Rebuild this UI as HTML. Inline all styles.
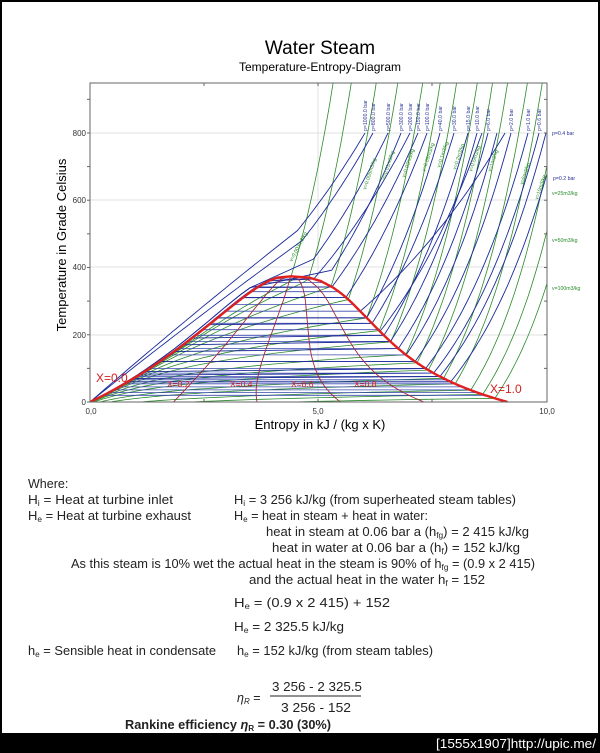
<!DOCTYPE html>
<html><head><meta charset="utf-8"><style>
html,body{margin:0;padding:0;background:#fff;}
svg{display:block;}
text{font-family:"Liberation Sans",sans-serif;}
</style></head><body>
<svg id="s" width="600" height="753" viewBox="0 0 600 753" xmlns="http://www.w3.org/2000/svg">
<rect x="0" y="0" width="600" height="753" fill="#fff"/>
<defs><clipPath id="cp"><rect x="90" y="83" width="457" height="319"/></clipPath></defs>
<text x="320" y="54" font-size="19" text-anchor="middle">Water Steam</text>
<text x="320" y="71" font-size="12" text-anchor="middle">Temperature-Entropy-Diagram</text>
<g stroke="#e2e2e2" stroke-width="1">
<line x1="90" y1="133" x2="547" y2="133"/><line x1="90" y1="200" x2="547" y2="200"/>
<line x1="90" y1="267" x2="547" y2="267"/><line x1="90" y1="335" x2="547" y2="335"/>
<line x1="318" y1="83" x2="318" y2="402"/>
</g>
<g id="curves" clip-path="url(#cp)" fill="none"></g>
<rect x="90" y="83" width="457" height="319" fill="none" stroke="#666" stroke-width="1"/>
<g id="ticks" stroke="#666" stroke-width="1"></g>
<g font-size="8" fill="#333">
<text x="86" y="136" text-anchor="end">800</text>
<text x="86" y="203" text-anchor="end">600</text>
<text x="86" y="270" text-anchor="end">400</text>
<text x="86" y="338" text-anchor="end">200</text>
<text x="86" y="405" text-anchor="end">0</text>
<text x="91" y="414" text-anchor="middle">0,0</text>
<text x="318" y="414" text-anchor="middle">5,0</text>
<text x="547" y="414" text-anchor="middle">10,0</text>
</g>
<text x="320" y="429" font-size="13" text-anchor="middle">Entropy in kJ / (kg x K)</text>
<text transform="translate(66,245) rotate(-90)" font-size="13" text-anchor="middle">Temperature in Grade Celsius</text>
<g id="plabels" font-size="5.2" fill="#2a3399"></g>
<g font-size="5.2" fill="#2a3399">
<text x="552" y="135">p=0.4 bar</text>
<text x="553" y="180">p=0.2 bar</text>
</g>
<g font-size="5.2" fill="#2a8a2a">
<text x="552" y="195">v=25m3/kg</text>
<text x="552" y="242">v=50m3/kg</text>
<text x="552" y="290">v=100m3/kg</text>
<text transform="translate(366,190) rotate(-72)">v=0.005m3/kg</text>
<text transform="translate(385,180) rotate(-72)">v=0.01m3/kg</text>
<text transform="translate(405,178) rotate(-72)">v=0.02m3/kg</text>
<text transform="translate(425,172) rotate(-72)">v=0.05m3/kg</text>
<text transform="translate(440,168) rotate(-72)">v=0.1m3/kg</text>
<text transform="translate(456,170) rotate(-72)">v=0.2m3/kg</text>
<text transform="translate(472,172) rotate(-72)">v=0.5m3/kg</text>
<text transform="translate(491,172) rotate(-72)">v=1m3/kg</text>
<text transform="translate(523,185) rotate(-72)">v=5m3/kg</text>
<text transform="translate(538,200) rotate(-72)">v=10m3/kg</text>
<text transform="translate(292,262) rotate(-62)">v=0.003m3/kg</text>
</g>
<g fill="#d42020">
<text x="96" y="382" font-size="12">X=0.0</text>
<text x="490" y="393" font-size="12">X=1.0</text>
<text x="167" y="387" font-size="8.5">X=0.2</text>
<text x="230" y="387" font-size="8.5">X=0.4</text>
<text x="291" y="387" font-size="8.5">X=0.6</text>
<text x="354" y="387" font-size="8.5">X=0.8</text>
</g>

<g font-size="12.5" fill="#222">
<text x="28" y="488">Where:</text>
<text x="28" y="504" textLength="145" lengthAdjust="spacingAndGlyphs">H<tspan font-size="8" dy="2">i</tspan><tspan dy="-2"> = Heat at turbine inlet</tspan></text>
<text x="234" y="504" textLength="282" lengthAdjust="spacingAndGlyphs">H<tspan font-size="8" dy="2">i</tspan><tspan dy="-2">  =  3 256 kJ/kg (from superheated steam tables)</tspan></text>
<text x="28" y="520" textLength="163" lengthAdjust="spacingAndGlyphs">H<tspan font-size="8" dy="2">e</tspan><tspan dy="-2"> = Heat at turbine exhaust</tspan></text>
<text x="234" y="520" textLength="194" lengthAdjust="spacingAndGlyphs">H<tspan font-size="8" dy="2">e</tspan><tspan dy="-2">  =  heat in steam + heat in water:</tspan></text>
<text x="266" y="536" textLength="263" lengthAdjust="spacingAndGlyphs">heat in steam at 0.06 bar a (h<tspan font-size="8" dy="2">fg</tspan><tspan dy="-2">)  =  2 415 kJ/kg</tspan></text>
<text x="272" y="552" textLength="248" lengthAdjust="spacingAndGlyphs">heat in water at 0.06 bar a (h<tspan font-size="8" dy="2">f</tspan><tspan dy="-2">)  =  152 kJ/kg</tspan></text>
<text x="71" y="568" textLength="464" lengthAdjust="spacingAndGlyphs">As this steam is 10% wet the actual heat in the steam is 90% of h<tspan font-size="8" dy="2">fg</tspan><tspan dy="-2">  =  (0.9 x 2 415)</tspan></text>
<text x="249" y="584" textLength="236" lengthAdjust="spacingAndGlyphs">and the actual heat in the water h<tspan font-size="8" dy="2">f</tspan><tspan dy="-2">  =  152</tspan></text>
<text x="234" y="607" textLength="156" lengthAdjust="spacingAndGlyphs">H<tspan font-size="8" dy="2">e</tspan><tspan dy="-2">  =  (0.9  x  2 415)   +   152</tspan></text>
<text x="234" y="631" textLength="110" lengthAdjust="spacingAndGlyphs">H<tspan font-size="8" dy="2">e</tspan><tspan dy="-2">  =  2 325.5 kJ/kg</tspan></text>
<text x="28" y="655" textLength="188" lengthAdjust="spacingAndGlyphs">h<tspan font-size="8" dy="2">e</tspan><tspan dy="-2">  =  Sensible heat in condensate</tspan></text>
<text x="237" y="655" textLength="196" lengthAdjust="spacingAndGlyphs">h<tspan font-size="8" dy="2">e</tspan><tspan dy="-2">  =  152 kJ/kg (from steam tables)</tspan></text>
<text x="237" y="702" font-style="italic">η<tspan font-size="8" dy="2">R</tspan><tspan dy="-2" font-style="normal">  =</tspan></text>
<text x="272" y="691" textLength="90" lengthAdjust="spacingAndGlyphs">3 256  -  2 325.5</text>
<line x1="270" y1="696" x2="361" y2="696" stroke="#222" stroke-width="1"/>
<text x="281" y="712" textLength="70" lengthAdjust="spacingAndGlyphs">3 256  -  152</text>
<text x="125" y="729" font-weight="bold" textLength="206" lengthAdjust="spacingAndGlyphs">Rankine efficiency  <tspan font-style="italic">η</tspan><tspan font-size="8" dy="2">R</tspan><tspan dy="-2">  =  0.30 (30%)</tspan></text>
</g>
<rect x="0" y="0" width="2" height="753" fill="#000"/>
<rect x="0" y="0" width="600" height="2" fill="#000"/>
<rect x="598" y="0" width="2" height="753" fill="#000"/>
<rect x="0" y="733" width="600" height="20" fill="#000"/>
<text x="596" y="748" font-size="13" fill="#fff" text-anchor="end" font-family="Liberation Mono, monospace" textLength="160" lengthAdjust="spacingAndGlyphs">[1555x1907]http://upic.me/</text>
</svg>
<script>
(function(){
var NS="http://www.w3.org/2000/svg";
var g=document.getElementById("curves"),tk=document.getElementById("ticks"),pl=document.getElementById("plabels");
function X(s){return 90+45.6*s;}function Y(T){return 402-0.3363*T;}
var Tt=[0,10,20,30,40,50,60,80,100,120,140,160,180,200,220,240,260,280,300,320,340,360,370,373.9];
var SF=[0,0.151,0.296,0.437,0.572,0.704,0.831,1.075,1.307,1.527,1.739,1.943,2.139,2.331,2.518,2.702,2.884,3.067,3.255,3.448,3.659,3.915,4.114,4.41];
var SG=[9.156,8.901,8.666,8.453,8.256,8.076,7.909,7.612,7.355,7.130,6.930,6.750,6.586,6.432,6.285,6.141,5.998,5.852,5.705,5.536,5.336,5.053,4.799,4.41];
var VG=[206,106.4,57.8,32.9,19.5,12.0,7.67,3.41,1.673,0.892,0.509,0.307,0.194,0.127,0.0861,0.0597,0.0422,0.0302,0.0217,0.0155,0.0108,0.0070,0.0050,0.0031].map(Math.log);
function ip(T,a){if(T<=0)return a[0];for(var i=1;i<Tt.length;i++){if(T<=Tt[i]){var f=(T-Tt[i-1])/(Tt[i]-Tt[i-1]);return a[i-1]+f*(a[i]-a[i-1]);}}return a[a.length-1];}
function path(pts,c,w){var d="";pts.forEach(function(p,i){d+=(i?"L":"M")+X(p[0]).toFixed(1)+" "+Y(p[1]).toFixed(1);});var e=document.createElementNS(NS,"path");e.setAttribute("d",d);e.setAttribute("stroke",c);e.setAttribute("stroke-width",w);e.setAttribute("fill","none");g.appendChild(e);}
function line(x1,y1,x2,y2){var e=document.createElementNS(NS,"line");e.setAttribute("x1",x1);e.setAttribute("y1",y1);e.setAttribute("x2",x2);e.setAttribute("y2",y2);tk.appendChild(e);}
for(var t=0;t<=900;t+=100){line(87,Y(t),90,Y(t));line(544,Y(t),547,Y(t));}
[2.5,5,7.5].forEach(function(s){line(X(s),83,X(s),86);line(X(s),399,X(s),402);});
var BLUE="#1a2a9a",GREEN="#2a8a2a";
[0.003,0.005,0.01,0.02,0.05,0.1,0.2,0.5,1,2,5,10,25,50,100].forEach(function(v){
 var lv=Math.log(v),Tc=0;var lo=0,hi=373.9;
 if(lv>=VG[0])Tc=0;else{for(var k=0;k<40;k++){var m=(lo+hi)/2;if(ip(m,VG)>lv)lo=m;else hi=m;}Tc=lo;}
 var pts=[];
 for(var T=0;T<=Tc;T+=Math.max(1,Tc/60)){var x=Math.min(1,v/Math.exp(ip(T,VG)));pts.push([ip(T,SF)+x*(ip(T,SG)-ip(T,SF)),T]);}
 var s1=ip(Tc,SG),TK=Tc+273.15;pts.push([s1,Tc]);
 for(var s=s1;s<=10.6;s+=0.05){var T2=TK*Math.exp((s-s1)/1.45)-273.15;pts.push([s,T2]);if(T2>960)break;}
 path(pts,GREEN,0.8);
});
var ps=[[200,365.8,410],[150,342.2,418],[100,311,427],[40,250.4,440],[30,233.9,454],[15,198.3,468],[10,179.9,477],[6,158.8,488],[2,120.2,511],[1,99.6,528],[0.6,86,539],[0.4,75.9,546],[0.2,60.1,558]];
var hs=[20,28,36,45,54,66,140,215,270,290,328,355];
ps.forEach(function(p){hs.push(p[1]);});
hs.forEach(function(T){path([[ip(T,SF),T],[ip(T,SG),T]],"#3a4ab0",0.8);});
function expc(s1,T1,s2,T2){var a=T1+273.15,b=T2+273.15,k=Math.log(b/a)/(s2-s1),pts=[];for(var i=0;i<=40;i++){var s=s1+(s2-s1)*i/40;pts.push([s,a*Math.exp(k*(s-s1))-273.15]);}return pts;}
function spx(px){return (px-90)/45.6;}
ps.forEach(function(p){var T=p[1],s1=ip(T,SG);var pts=[];for(var t=0;t<=T;t+=10)pts.push([ip(t,SF)*0.99,t]);path(pts.concat(expc(s1,T,spx(p[2]),800)),BLUE,0.9);});
[[270,505],[210,482],[140,497]].forEach(function(p){var T=p[0];path(expc(ip(T,SG),T,spx(p[1]),800),BLUE,0.9);});
[[365,[4.55,510]],[373,[4.65,480]],[388,[4.9,425]],[401,[5.3,392]]].forEach(function(p,i){
 var pts=[];var a=p[1];
 if(i<2){for(var t=0;t<=a[1]*0.9;t+=20){pts.push([a[0]*t/a[1]*(0.95+0.05*t/a[1]),t]);}}
 else{for(var t=0;t<=340;t+=20)pts.push([ip(t,SF)*0.96,t]);}
 pts.push(a);path(pts.concat(expc(a[0],a[1],spx(p[0]),800)),BLUE,0.9);
});
[0.2,0.4,0.6,0.8].forEach(function(x){var pts=[];for(var T=0;T<=373.9;T+=4)pts.push([ip(T,SF)+x*(ip(T,SG)-ip(T,SF)),T]);pts.push([4.41,373.9]);path(pts,"#a02838",0.9);});
var d=[];for(var T=0;T<=373.9;T+=2)d.push([ip(T,SF),T]);d.push([4.41,373.9]);for(var T=372;T>=0;T-=2)d.push([ip(T,SG),T]);d.push([9.156,0]);
path(d,"#e02020",2.4);
[["p=1000.0 bar",365],["p=800.0 bar",373],["p=500.0 bar",388],["p=300.0 bar",401],["p=200.0 bar",410],["p=150.0 bar",418],["p=100.0 bar",427],["p=40.0 bar",440],["p=30.0 bar",454],["p=15.0 bar",468],["p=10.0 bar",477],["p=6.0 bar",488],["p=2.0 bar",511],["p=1.0 bar",528],["p=0.6 bar",539]].forEach(function(l){var e=document.createElementNS(NS,"text");e.setAttribute("transform","translate("+(l[1]+2)+",131) rotate(-90)");e.textContent=l[0];pl.appendChild(e);});
})();
</script>
</body></html>
